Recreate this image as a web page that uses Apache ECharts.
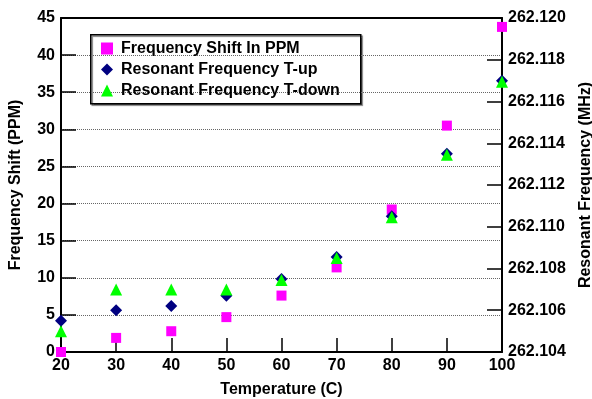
<!DOCTYPE html>
<html><head><meta charset="utf-8">
<script src="https://cdn.jsdelivr.net/npm/echarts@6/dist/echarts.min.js"></script>
<style>html,body{margin:0;padding:0;background:#fff}#c{width:592px;height:399px}</style>
</head><body><div id="c"></div>
<script>
var temps = [20, 30, 40, 50, 60, 70, 80, 90, 100];
var shiftPPM = [0, 1.9, 2.8, 4.7, 7.6, 11.4, 19.2, 30.5, 43.8];
var tUp = [262.1055, 262.1060, 262.1062, 262.1067, 262.1075, 262.10855, 262.1105, 262.1135, 262.1170];
var tDown = [262.1050, 262.1070, 262.1070, 262.1070, 262.10745, 262.1085, 262.11045, 262.11345, 262.11695];
var seriesNames = ['Frequency Shift In PPM', 'Resonant Frequency T-up', 'Resonant Frequency T-down'];

function pairs(xs, ys){ return xs.map(function(x,i){ return [x, ys[i]]; }); }
var FONT = 'Liberation Sans, Arial, sans-serif';
var lbl = {fontFamily: FONT, fontWeight: 'bold', fontSize: 16, color: '#000'};

var chart = echarts.init(document.getElementById('c'));
chart.setOption({
  animation: false,
  grid: {left: 61, right: 90, top: 18, bottom: 47, containLabel: false, outerBoundsMode: 'none'},
  legend: {
    orient: 'vertical', left: 101, top: 38, itemGap: 0, padding: 0,
    itemWidth: 12, itemHeight: 12,
    textStyle: {fontFamily: FONT, fontWeight: 'bold', fontSize: 16, color: '#000', lineHeight: 21, padding: [0,0,0,3]},
    data: seriesNames
  },
  graphic: [{
    type: 'rect', left: 90, top: 34, z: -1,
    shape: {width: 270, height: 69},
    style: {fill: '#fff', stroke: '#000', lineWidth: 1.5, shadowColor: 'rgba(0,0,0,0.5)', shadowOffsetX: 1.5, shadowOffsetY: 1.5, shadowBlur: 1}
  }],
  xAxis: [{
    type: 'value', min: 20, max: 100, interval: 10,
    name: 'Temperature (C)', nameLocation: 'middle', nameGap: 30, nameMoveOverlap: false,
    nameTextStyle: lbl,
    axisLine: {lineStyle: {color: '#000', width: 2}},
    axisTick: {inside: true, length: 14, lineStyle: {color: '#000', width: 1.5}},
    axisLabel: Object.assign({margin: 6}, lbl),
    splitLine: {show: false}
  }, {
    type: 'value', position: 'top', min: 20, max: 100,
    axisLine: {show: true, onZero: false, lineStyle: {color: '#000', width: 2}},
    axisTick: {show: false}, axisLabel: {show: false}, splitLine: {show: false}
  }],
  yAxis: [{
    type: 'value', min: 0, max: 45, interval: 5,
    name: 'Frequency Shift (PPM)', nameLocation: 'middle', nameGap: 37, nameMoveOverlap: false,
    nameTextStyle: lbl,
    axisLine: {show: true, lineStyle: {color: '#000', width: 2}},
    axisTick: {show: true, inside: true, length: 15, lineStyle: {color: '#000', width: 1.5}},
    axisLabel: Object.assign({margin: 6}, lbl),
    splitLine: {show: true, lineStyle: {color: '#666', width: 1, type: [1, 1]}}
  }, {
    type: 'value', min: 262.104, max: 262.120, interval: 0.002,
    name: 'Resonant Frequency (MHz)', nameLocation: 'middle', nameGap: 76, nameMoveOverlap: false,
    nameTextStyle: lbl,
    axisLine: {show: true, lineStyle: {color: '#000', width: 2}},
    axisTick: {show: true, inside: true, length: 15, lineStyle: {color: '#000', width: 1.5}},
    axisLabel: Object.assign({margin: 6, formatter: function(v){ return v.toFixed(3); }}, lbl),
    splitLine: {show: false}
  }],
  series: [{
    name: seriesNames[0], type: 'scatter', yAxisIndex: 0,
    symbol: 'rect', symbolSize: 10, itemStyle: {color: '#FF00FF', opacity: 1},
    data: pairs(temps, shiftPPM)
  }, {
    name: seriesNames[1], type: 'scatter', yAxisIndex: 1,
    symbol: 'diamond', symbolSize: [12, 12], itemStyle: {color: '#000080', opacity: 1},
    data: pairs(temps, tUp)
  }, {
    name: seriesNames[2], type: 'scatter', yAxisIndex: 1,
    symbol: 'triangle', symbolSize: [12, 12], itemStyle: {color: '#00FF00', opacity: 1},
    data: pairs(temps, tDown)
  }]
});
</script></body></html>
